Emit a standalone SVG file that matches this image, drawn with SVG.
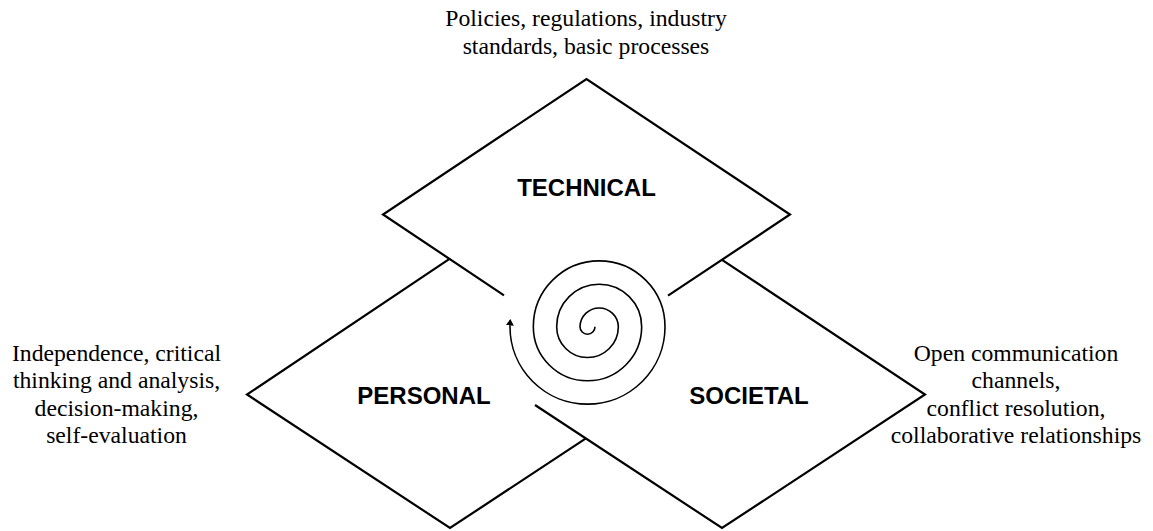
<svg xmlns="http://www.w3.org/2000/svg" width="1153" height="531" viewBox="0 0 1153 531">
  <style>
    .edge { fill: none; stroke: #000; stroke-width: 2.2; stroke-linejoin: miter; stroke-linecap: butt; }
    .label { font-family: "Liberation Sans", Arial, sans-serif; font-weight: bold; font-size: 24px; fill: #000; text-anchor: middle; }
    .note { font-family: "Liberation Serif", "Times New Roman", serif; font-size: 23.7px; fill: #000; text-anchor: middle; }
    .spiral { fill: none; stroke: #000; stroke-width: 1.6; }
  </style>
  <defs>
    <marker id="arrow" markerUnits="userSpaceOnUse" markerWidth="10" markerHeight="10" refX="5" refY="4" orient="auto">
      <path d="M0,0 L6.5,4 L0,8 z" fill="#000"/>
    </marker>
  </defs>
  <rect width="1153" height="531" fill="#fff"/>

  <!-- Technical diamond (lower edges stop short of the spiral) -->
  <g id="technical">
    <polyline class="edge" points="504,295.3 383,214.5 586.5,79 790,214.5 668,295.7"/>
    <text class="label" x="586.5" y="196">TECHNICAL</text>
    <text class="note" x="586" y="26">Policies, regulations, industry</text>
    <text class="note" x="586" y="54">standards, basic processes</text>
  </g>

  <!-- Personal diamond -->
  <g id="personal">
    <polyline class="edge" points="449.5,258.8 247,394.5 450,528 585.9,438.4"/>
    <text class="label" x="424" y="404">PERSONAL</text>
    <text class="note" x="116.5" y="360.5">Independence, critical</text>
    <text class="note" x="116.5" y="388">thinking and analysis,</text>
    <text class="note" x="116.5" y="415.5">decision-making,</text>
    <text class="note" x="116.5" y="443">self-evaluation</text>
  </g>

  <!-- Societal diamond -->
  <g id="societal">
    <polyline class="edge" points="722,259.8 925,394.5 722,528 535,405"/>
    <text class="label" x="749" y="404">SOCIETAL</text>
    <text class="note" x="1016" y="360.5">Open communication</text>
    <text class="note" x="1016" y="388">channels,</text>
    <text class="note" x="1016" y="415.5">conflict resolution,</text>
    <text class="note" x="1016" y="443">collaborative relationships</text>
  </g>

  <!-- Central spiral, built from alternating half-circles, ending in an arrow -->
  <g id="connectors">
    <path class="spiral" marker-end="url(#arrow)"
          d="M595,326.7
             A7.5,7.5 0 0 1 580,326.7
             A19.17,19.17 0 0 1 618.33,326.7
             A30.83,30.83 0 0 1 556.67,326.7
             A42.5,42.5 0 0 1 641.67,326.7
             A54.17,54.17 0 0 1 533.33,326.7
             A65.83,65.83 0 0 1 665,326.7
             A77.5,77.5 0 0 1 510,326.7
             A89.17,89.17 0 0 1 510.22,320.46"/>
  </g>
</svg>
